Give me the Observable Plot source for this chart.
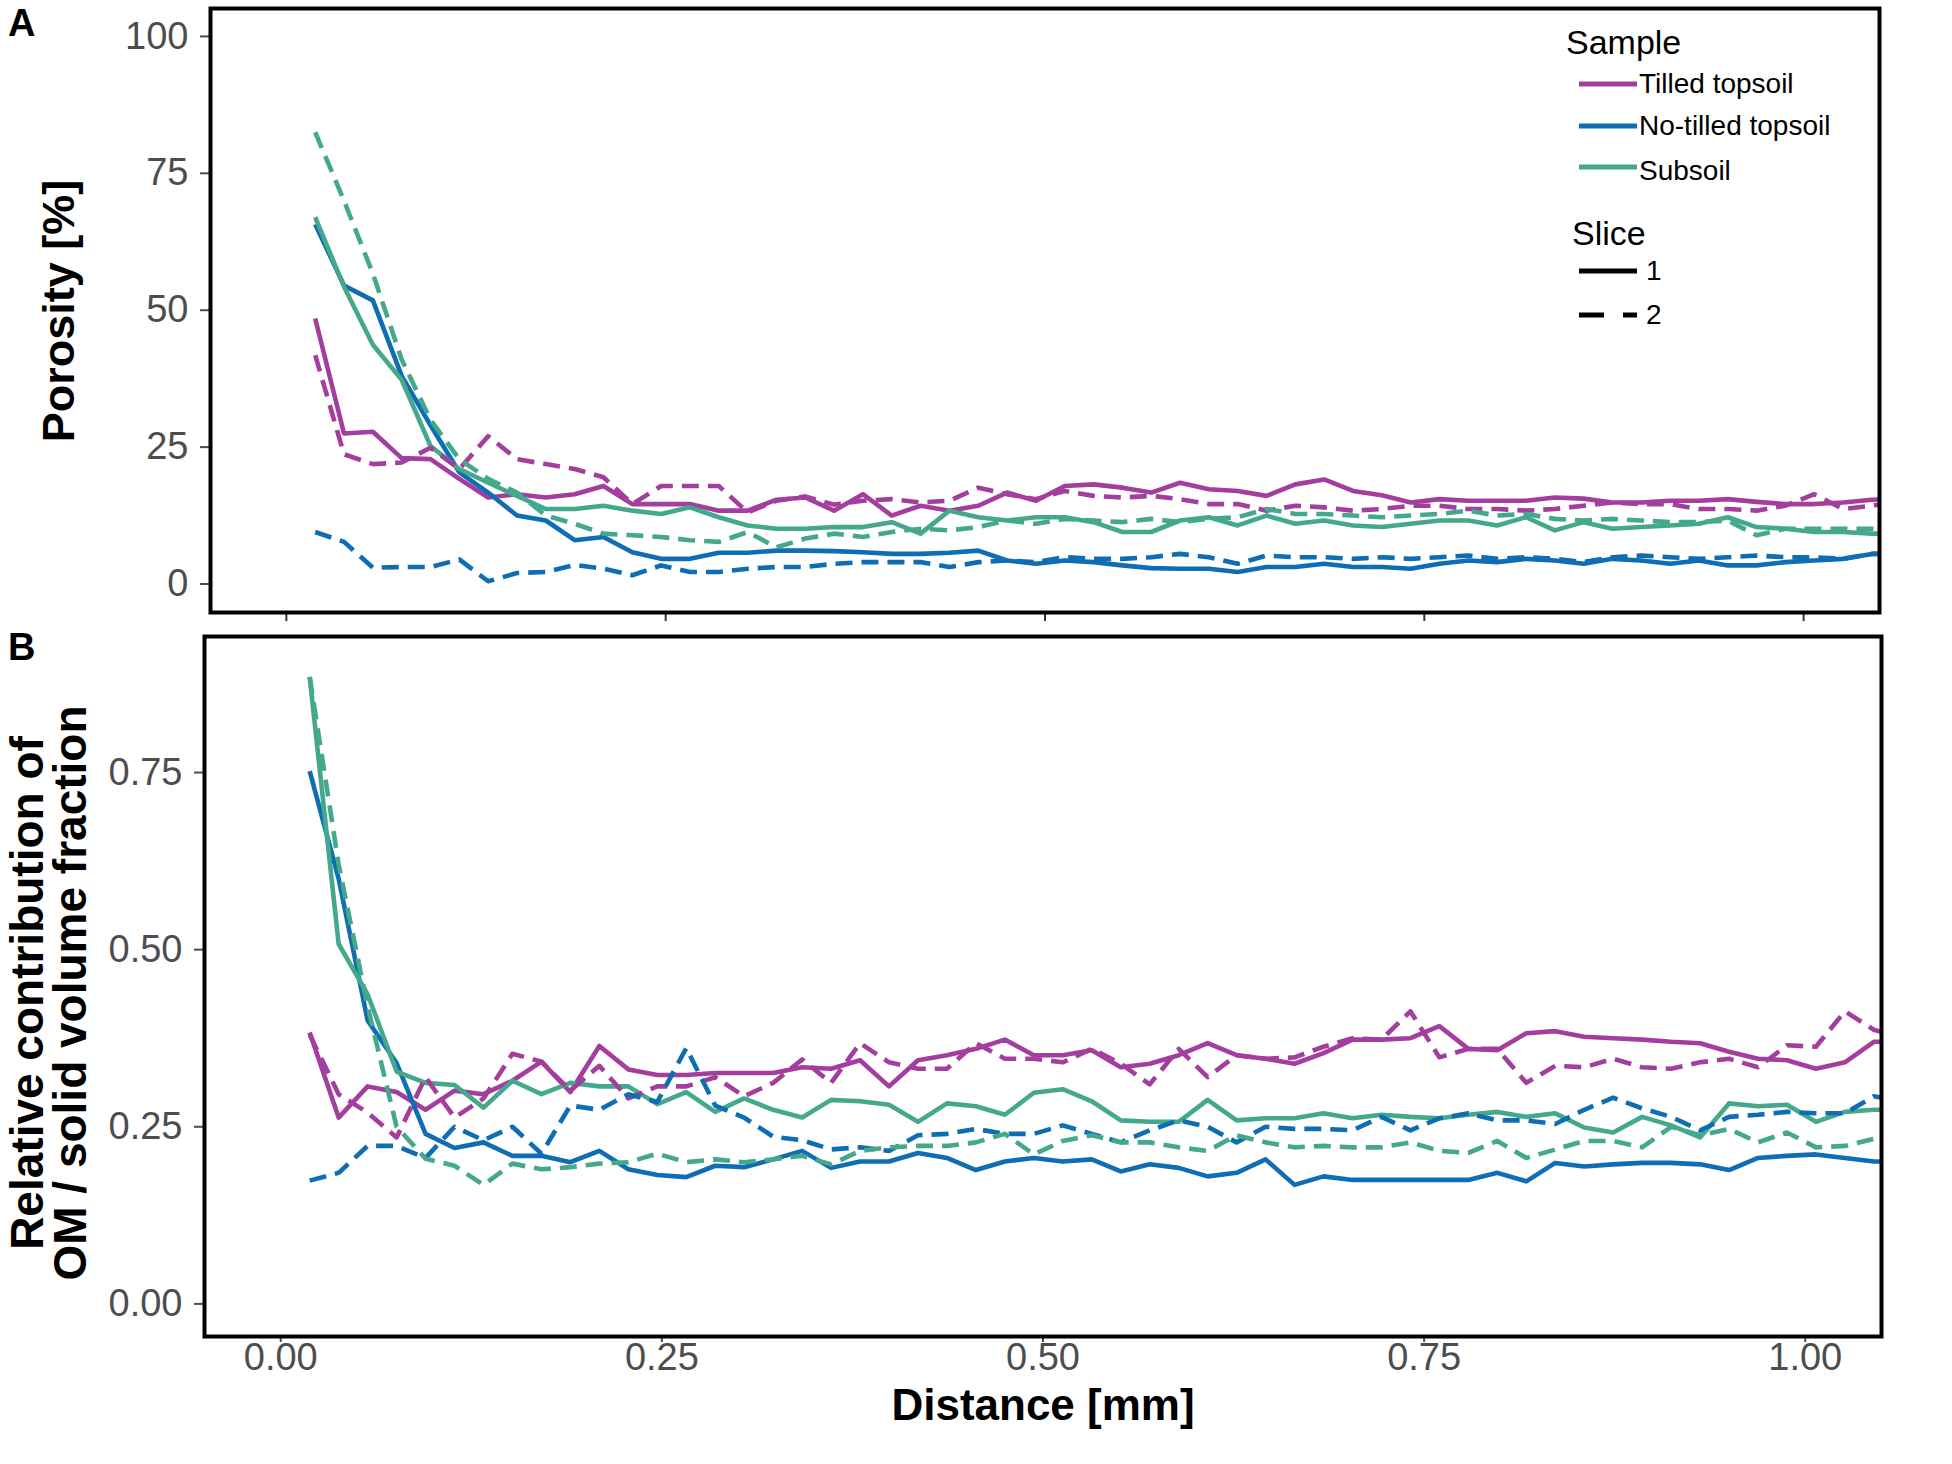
<!DOCTYPE html>
<html>
<head>
<meta charset="utf-8">
<script src="https://cdn.jsdelivr.net/npm/d3@7"></script>
<script src="https://cdn.jsdelivr.net/npm/@observablehq/plot@0.6"></script>
<style>
  html, body { margin: 0; padding: 0; background: #fff; }
  #root { position: relative; width: 1952px; height: 1464px; background: #fff; overflow: hidden;
          font-family: "Liberation Sans", Arial, Helvetica, sans-serif; color: #000; }
  .abs { position: absolute; white-space: nowrap; }
</style>
</head>
<body>
<div id="root"></div>
<script>
// ---------------- data ----------------
const distance = [0.019, 0.038, 0.057, 0.076, 0.095, 0.114, 0.133, 0.152, 0.171, 0.19,
  0.209, 0.228, 0.247, 0.266, 0.285, 0.304, 0.323, 0.342, 0.361, 0.38,
  0.399, 0.418, 0.437, 0.456, 0.475, 0.494, 0.513, 0.532, 0.551, 0.57,
  0.589, 0.608, 0.627, 0.646, 0.665, 0.684, 0.703, 0.722, 0.741, 0.76,
  0.779, 0.798, 0.817, 0.836, 0.855, 0.874, 0.893, 0.912, 0.931, 0.95,
  0.969, 0.988, 1.007, 1.026, 1.045, 1.064];

const samples = ["Tilled topsoil", "No-tilled topsoil", "Subsoil"];
const sampleColors = ["#a43e9e", "#0f6db3", "#44a88d"];
const slices = ["1", "2"];

// Panel A: porosity [%]
const tilledPorosity1 = [48.5, 27.5, 27.8, 23, 22.8, 19.2, 15.8, 16.4, 15.8, 16.4, 17.9, 14.6, 14.6, 14.6, 13.4, 13.4, 15.4,
  15.8, 13.4, 16.4, 12.5, 14.3, 13.4, 14.3, 16.7, 15.2, 17.9, 18.2, 17.6, 16.7, 18.5, 17.3, 17, 16.1, 18.2, 19.1, 17,
  16.2, 14.9, 15.5, 15.2, 15.2, 15.2, 15.8, 15.6, 14.9, 14.9, 15.2, 15.2, 15.5, 15, 14.6, 14.6, 14.9, 15.4, 15.5];
const tilledPorosity2 = [41.8, 23.7, 21.9, 22.2, 24.9, 21, 27, 22.8, 21.9, 21, 19.5, 14.6, 17.9, 17.9, 17.9, 13.1, 15.2,
  16, 14.5, 15.2, 15.5, 14.9, 15.2, 17.6, 16.4, 15.5, 17, 16.1, 15.8, 16.1, 15.5, 14.6, 14.6, 13.4, 14.3, 14, 13.4,
  13.7, 14.3, 14.3, 13.7, 13.7, 13.4, 13.7, 14.3, 14.9, 14.6, 14.6, 13.7, 13.7, 13.4, 14.3, 16.4, 13.7, 14.3, 15.2];
const noTilledPorosity1 = [65.7, 54.5, 51.8, 38, 29, 20.4, 16.7, 12.5, 11.6, 8, 8.6, 5.8, 4.6, 4.6, 5.7, 5.7, 6.1,
  6.1, 6, 5.8, 5.5, 5.5, 5.7, 6.1, 4.3, 3.7, 4.3, 4, 3.4, 2.9, 2.8, 2.8, 2.2, 3.1, 3.1, 3.7, 3.1,
  3.1, 2.8, 3.7, 4.3, 4, 4.6, 4.3, 3.7, 4.6, 4.3, 3.7, 4.3, 3.4, 3.4, 4, 4.3, 4.6, 5.5, 5.5];
const noTilledPorosity2 = [9.5, 7.7, 3, 3.1, 3.1, 4.5, 0.5, 2, 2.2, 3.5, 2.8, 1.6, 3.4, 2.2, 2.2, 2.8, 3.1,
  3.1, 3.7, 4, 4, 4, 3.1, 4, 4.3, 4, 4.9, 4.6, 4.6, 4.9, 5.5, 4.9, 3.7, 5.2, 4.9, 4.9, 4.6,
  4.9, 4.6, 4.9, 5.2, 4.6, 4.9, 4.6, 4, 4.9, 5.2, 4.9, 4.6, 4.9, 5.2, 4.9, 4.9, 4.6, 5.5, 5.5];
const subsoilPorosity1 = [67, 54.3, 43.7, 37.3, 25.2, 21, 18.5, 16.1, 13.7, 13.7, 14.3, 13.4, 12.8, 14, 12.2, 10.7, 10.1,
  10.1, 10.4, 10.4, 11.3, 9.2, 13.4, 12.2, 11.6, 12.2, 12.2, 11.3, 9.5, 9.5, 11.6, 12.2, 10.7, 12.5, 11, 11.6, 10.7,
  10.4, 11, 11.6, 11.6, 10.7, 12.2, 9.8, 11.3, 10.1, 10.4, 10.7, 11, 12.2, 10.4, 10.1, 9.5, 9.5, 9.2, 9.2];
const subsoilPorosity2 = [82.5, 70, 56.7, 41, 30, 22.8, 19.2, 16.7, 12.5, 11, 9.2, 8.9, 8.6, 8, 7.7, 9.5, 6.7,
  8.3, 9.2, 8.6, 9.5, 10.1, 9.8, 10.4, 11.6, 11, 11.9, 11.6, 11.3, 11.9, 11.3, 11.9, 12.2, 13.7, 12.8, 12.8, 12.5,
  12.2, 12.5, 12.8, 13.4, 12.5, 12.8, 11.9, 11.6, 11.9, 11.6, 11.3, 11.3, 11.6, 8.9, 10.1, 10.1, 10.1, 10.1, 10.1];

// Panel B: relative contribution of OM / solid volume fraction
const tilledOM1 = [0.383, 0.263, 0.307, 0.299, 0.274, 0.301, 0.296, 0.315, 0.342, 0.299, 0.364, 0.331, 0.323, 0.323, 0.326, 0.326, 0.326, 0.334,
  0.332, 0.344, 0.307, 0.344, 0.351, 0.36, 0.373, 0.351, 0.351, 0.358, 0.334, 0.339, 0.351, 0.368, 0.351, 0.346, 0.339, 0.354, 0.373,
  0.373, 0.375, 0.392, 0.36, 0.358, 0.382, 0.385, 0.377, 0.375, 0.373, 0.37, 0.368, 0.356, 0.346, 0.344, 0.332, 0.341, 0.37, 0.37];
const tilledOM2 = [0.38, 0.296, 0.27, 0.235, 0.32, 0.263, 0.29, 0.353, 0.342, 0.301, 0.336, 0.29, 0.307, 0.307, 0.32, 0.293, 0.312, 0.345,
  0.312, 0.368, 0.341, 0.332, 0.332, 0.368, 0.346, 0.346, 0.341, 0.36, 0.339, 0.31, 0.36, 0.32, 0.351, 0.346, 0.348, 0.363, 0.375,
  0.373, 0.413, 0.348, 0.36, 0.36, 0.312, 0.336, 0.334, 0.346, 0.334, 0.332, 0.341, 0.346, 0.334, 0.365, 0.363, 0.413, 0.387, 0.375];
const noTilledOM1 = [0.752, 0.6, 0.4, 0.34, 0.24, 0.22, 0.228, 0.209, 0.209, 0.2, 0.216, 0.19, 0.182, 0.179, 0.195, 0.193, 0.204, 0.216,
  0.192, 0.201, 0.201, 0.213, 0.206, 0.189, 0.201, 0.206, 0.201, 0.204, 0.187, 0.197, 0.192, 0.18, 0.185, 0.204, 0.168, 0.18, 0.175,
  0.175, 0.175, 0.175, 0.175, 0.185, 0.173, 0.199, 0.194, 0.197, 0.199, 0.199, 0.197, 0.189, 0.206, 0.209, 0.211, 0.206, 0.201, 0.201];
const noTilledOM2 = [0.174, 0.185, 0.223, 0.223, 0.206, 0.25, 0.231, 0.25, 0.212, 0.28, 0.274, 0.296, 0.285, 0.361, 0.28, 0.263, 0.236, 0.231,
  0.218, 0.221, 0.216, 0.238, 0.24, 0.247, 0.24, 0.24, 0.252, 0.24, 0.228, 0.245, 0.259, 0.25, 0.228, 0.25, 0.247, 0.247, 0.245,
  0.264, 0.245, 0.262, 0.269, 0.259, 0.259, 0.254, 0.274, 0.291, 0.276, 0.264, 0.245, 0.264, 0.267, 0.271, 0.269, 0.269, 0.293, 0.285];
const subsoilOM1 = [0.885, 0.508, 0.437, 0.328, 0.312, 0.309, 0.277, 0.315, 0.296, 0.312, 0.307, 0.307, 0.282, 0.299, 0.271, 0.29, 0.274, 0.263,
  0.288, 0.286, 0.281, 0.257, 0.283, 0.279, 0.267, 0.298, 0.303, 0.286, 0.259, 0.257, 0.257, 0.288, 0.259, 0.262, 0.262, 0.269, 0.262,
  0.267, 0.264, 0.262, 0.267, 0.271, 0.264, 0.269, 0.249, 0.242, 0.264, 0.252, 0.235, 0.283, 0.279, 0.281, 0.257, 0.271, 0.274, 0.274];
const subsoilOM2 = [0.885, 0.62, 0.42, 0.25, 0.205, 0.195, 0.168, 0.198, 0.19, 0.193, 0.198, 0.2, 0.212, 0.2, 0.204, 0.2, 0.204, 0.209,
  0.197, 0.216, 0.221, 0.223, 0.223, 0.228, 0.24, 0.211, 0.23, 0.238, 0.228, 0.228, 0.221, 0.216, 0.238, 0.228, 0.221, 0.223, 0.221,
  0.221, 0.228, 0.216, 0.213, 0.23, 0.206, 0.218, 0.23, 0.23, 0.221, 0.25, 0.238, 0.247, 0.228, 0.242, 0.221, 0.223, 0.233, 0.235];

const porosityTicks = [0, 25, 50, 75, 100];
const omTicks = [0, 0.25, 0.5, 0.75];
const distanceTicks = [0, 0.25, 0.5, 0.75, 1];

// ---------------- build tables ----------------
function rows(values, sample, slice) {
  return values.map((v, i) => ({distance: distance[i], value: v, sample, slice}));
}
const porosityData = [
  ...rows(tilledPorosity1, samples[0], "1"), ...rows(tilledPorosity2, samples[0], "2"),
  ...rows(noTilledPorosity1, samples[1], "1"), ...rows(noTilledPorosity2, samples[1], "2"),
  ...rows(subsoilPorosity1, samples[2], "1"), ...rows(subsoilPorosity2, samples[2], "2")
];
const omData = [
  ...rows(tilledOM1, samples[0], "1"), ...rows(tilledOM2, samples[0], "2"),
  ...rows(noTilledOM1, samples[1], "1"), ...rows(noTilledOM2, samples[1], "2"),
  ...rows(subsoilOM1, samples[2], "1"), ...rows(subsoilOM2, samples[2], "2")
];

const FONT = "'Liberation Sans', Arial, Helvetica, sans-serif";
const LW = 4.6;
const DASH = "17,9";
const tickGrey = "#4d4d4d";

function lineMarks(data) {
  return [
    Plot.line(data.filter(d => d.slice === "1"), {x: "distance", y: "value", z: "sample", stroke: "sample",
      strokeWidth: LW, clip: true, strokeLinejoin: "round", strokeLinecap: "butt"}),
    Plot.line(data.filter(d => d.slice === "2"), {x: "distance", y: "value", z: "sample", stroke: "sample",
      strokeWidth: LW, strokeDasharray: DASH, clip: true, strokeLinejoin: "round", strokeLinecap: "butt"})
  ];
}

const root = document.getElementById("root");

// ---------------- Panel A ----------------
const plotA = Plot.plot({
  width: 1952, height: 640,
  marginLeft: 210, marginRight: 73, marginTop: 8, marginBottom: 28,
  style: {fontFamily: FONT, background: "transparent", overflow: "visible"},
  x: {domain: [-0.05, 1.05]},
  y: {domain: [-5.2, 105.1]},
  color: {domain: samples, range: sampleColors},
  marks: [
    ...lineMarks(porosityData),
    Plot.axisY(porosityTicks, {tickSize: 10, tickPadding: 12, fontSize: 38, label: null, color: tickGrey, strokeWidth: 2}),
    Plot.axisX(distanceTicks, {tickSize: 9, tickFormat: () => "", label: null, color: "#333", strokeWidth: 2}),
    Plot.frame({stroke: "#000", strokeWidth: 4})
  ]
});
plotA.style.position = "absolute";
plotA.style.left = "0px";
plotA.style.top = "0px";
root.appendChild(plotA);

// ---------------- Panel B ----------------
const plotB = Plot.plot({
  width: 1952, height: 839,
  marginLeft: 204, marginRight: 71, marginTop: 11, marginBottom: 128,
  style: {fontFamily: FONT, background: "transparent", overflow: "visible"},
  x: {domain: [-0.05, 1.05]},
  y: {domain: [-0.046, 0.942]},
  color: {domain: samples, range: sampleColors},
  marks: [
    ...lineMarks(omData),
    Plot.axisY(omTicks, {tickSize: 10, tickPadding: 12, fontSize: 38, label: null, color: tickGrey, strokeWidth: 2,
      tickFormat: d3.format(".2f")}),
    Plot.axisX(distanceTicks, {tickSize: 6, tickPadding: 1, fontSize: 38, label: null, color: tickGrey, strokeWidth: 2,
      tickFormat: d3.format(".2f")}),
    Plot.frame({stroke: "#000", strokeWidth: 4})
  ]
});
plotB.style.position = "absolute";
plotB.style.left = "0px";
plotB.style.top = "625px";
root.appendChild(plotB);

// ---------------- text ----------------
function addText(txt, css) {
  const d = document.createElement("div");
  d.className = "abs";
  d.innerHTML = txt;
  Object.assign(d.style, css);
  root.appendChild(d);
  return d;
}
addText("A", {left: "8px", top: "4px", fontSize: "38px", fontWeight: "bold", lineHeight: "38px"});
addText("B", {left: "8px", top: "628px", fontSize: "38px", fontWeight: "bold", lineHeight: "38px"});
addText("Porosity [%]", {left: "58px", top: "311px", fontSize: "45px", fontWeight: "bold", lineHeight: "45px",
  transform: "translate(-50%,-50%) rotate(-90deg)"});
addText("Relative contribution of<br>OM / solid volume fraction", {left: "49px", top: "993px", fontSize: "46px",
  fontWeight: "bold", lineHeight: "43px", textAlign: "center", transform: "translate(-50%,-50%) rotate(-90deg)"});
addText("Distance [mm]", {left: "1043px", top: "1405px", fontSize: "44px", fontWeight: "bold", lineHeight: "36px",
  transform: "translate(-50%,-50%)"});

// ---------------- legend ----------------
addText("Sample", {left: "1566px", top: "25px", fontSize: "34px", lineHeight: "34px"});
const keyY = [84, 126, 167];
const labelDy = [0, 0, 4];
samples.forEach((s, i) => {
  addText(s, {left: "1639px", top: (keyY[i] - 15 + labelDy[i]) + "px", fontSize: "28px", lineHeight: "30px"});
});
addText("Slice", {left: "1572px", top: "216px", fontSize: "34px", lineHeight: "34px"});
const sliceY = [271, 315];
slices.forEach((s, i) => {
  addText(s, {left: "1646px", top: (sliceY[i] - 15) + "px", fontSize: "28px", lineHeight: "30px"});
});
const ns = "http://www.w3.org/2000/svg";
const leg = document.createElementNS(ns, "svg");
leg.setAttribute("width", 1952); leg.setAttribute("height", 400);
leg.style.position = "absolute"; leg.style.left = "0px"; leg.style.top = "0px";
samples.forEach((s, i) => {
  const l = document.createElementNS(ns, "line");
  l.setAttribute("x1", 1579); l.setAttribute("x2", 1637);
  l.setAttribute("y1", keyY[i]); l.setAttribute("y2", keyY[i]);
  l.setAttribute("stroke", sampleColors[i]); l.setAttribute("stroke-width", 5);
  leg.appendChild(l);
});
slices.forEach((s, i) => {
  const l = document.createElementNS(ns, "line");
  l.setAttribute("x1", 1579); l.setAttribute("x2", 1637);
  l.setAttribute("y1", sliceY[i]); l.setAttribute("y2", sliceY[i]);
  l.setAttribute("stroke", "#000"); l.setAttribute("stroke-width", 5);
  if (s === "2") l.setAttribute("stroke-dasharray", "25,19");
  leg.appendChild(l);
});
root.appendChild(leg);
</script>
</body>
</html>
